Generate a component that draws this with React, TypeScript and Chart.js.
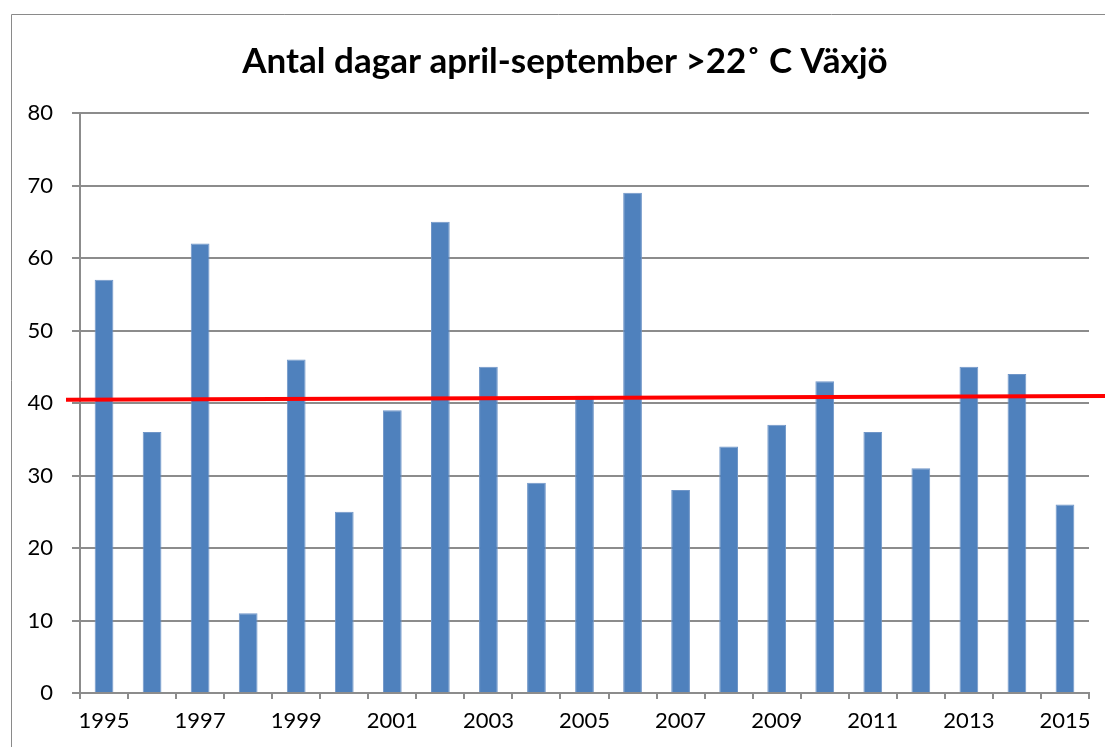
import React, { useEffect, useRef } from "react";
import { Chart, registerables } from "chart.js";

Chart.register(...registerables);

const years = [
  "1995", "1996", "1997", "1998", "1999", "2000", "2001", "2002", "2003", "2004",
  "2005", "2006", "2007", "2008", "2009", "2010", "2011", "2012", "2013", "2014", "2015",
];
const days = [57, 36, 62, 11, 46, 25, 39, 65, 45, 29, 41, 69, 28, 34, 37, 43, 36, 31, 45, 44, 26];
const trendLine = [40.45, 40.95];
const yTicks = [0, 10, 20, 30, 40, 50, 60, 70, 80];
const titleText = "Antal dagar april-september >22˚ C Växjö";

const FONT = "Lato, 'Open Sans', sans-serif";

const framePlugin = {
  id: "frame",
  beforeDraw(chart: any) {
    const ctx = chart.ctx;
    ctx.save();
    ctx.strokeStyle = "#8a8a8a";
    ctx.lineWidth = 1;
    ctx.beginPath();
    ctx.moveTo(11.5, chart.height);
    ctx.lineTo(11.5, 14.5);
    ctx.lineTo(chart.width, 14.5);
    ctx.stroke();
    ctx.restore();
  },
};

const titlePlugin = {
  id: "centeredTitle",
  afterDraw(chart: any) {
    const ctx = chart.ctx;
    ctx.save();
    ctx.fillStyle = "#000";
    ctx.font = `bold 35px ${FONT}`;
    ctx.textAlign = "center";
    ctx.textBaseline = "middle";
    ctx.fillText(titleText, (chart.width + 25) / 2, 62);
    ctx.restore();
  },
};

const trendPlugin = {
  id: "trend",
  afterDatasetsDraw(chart: any) {
    const ctx = chart.ctx;
    const y = chart.scales.y;
    const area = chart.chartArea;
    const x1 = area.left - 14;
    const x2 = chart.width;
    ctx.save();
    ctx.strokeStyle = "#FF0000";
    ctx.lineWidth = 4;
    ctx.beginPath();
    ctx.moveTo(x1, y.getPixelForValue(trendLine[0]));
    ctx.lineTo(x2, y.getPixelForValue(trendLine[1]));
    ctx.stroke();
    ctx.restore();
  },
};

export default function App() {
  const ref = useRef<HTMLCanvasElement | null>(null);

  useEffect(() => {
    if (!ref.current) return;
    const chart = new Chart(ref.current, {
      type: "bar",
      data: {
        labels: years,
        datasets: [
          {
            data: days,
            backgroundColor: "#4F81BD",
            borderColor: "#7096C8",
            borderWidth: 1,
            categoryPercentage: 1,
            barPercentage: 0.39,
          },
        ],
      },
      options: {
        animation: false,
        responsive: false,
        layout: { padding: { left: 0, right: 16, top: 113, bottom: 0 } },
        plugins: {
          legend: { display: false },
          tooltip: { enabled: false },
          title: { display: false },
        },
        scales: {
          x: {
            type: "category",
            offset: true,
            grid: {
              display: true,
              drawOnChartArea: false,
              drawTicks: true,
              tickLength: 6,
              offset: true,
              color: "#8c8c8c",
              lineWidth: 2,
            },
            border: { display: true, color: "#8c8c8c", width: 2 },
            ticks: {
              autoSkip: false,
              maxRotation: 0,
              color: "#000",
              padding: 9,
              font: { family: FONT, size: 22 },
              callback: (_v: any, i: number) => (i % 2 === 0 ? years[i] : ""),
            },
            afterFit: (s: any) => {
              s.height = 54;
            },
          },
          y: {
            min: 0,
            max: 80,
            afterBuildTicks: (s: any) => {
              s.ticks = yTicks.map((v) => ({ value: v }));
            },
            grid: {
              color: "#8c8c8c",
              lineWidth: 2,
              tickLength: 8,
              drawTicks: true,
            },
            border: { display: true, color: "#8c8c8c", width: 2 },
            ticks: {
              color: "#000",
              padding: 19,
              font: { family: FONT, size: 22 },
            },
            afterFit: (s: any) => {
              s.width = 80;
            },
          },
        },
      },
      plugins: [framePlugin, trendPlugin, titlePlugin],
    } as any);
    return () => chart.destroy();
  }, []);

  return (
    <div style={{ position: "fixed", left: 0, top: 0, width: 1105, height: 747, background: "#fff" }}>
      <canvas ref={ref} width={1105} height={747} style={{ display: "block" }} />
    </div>
  );
}
